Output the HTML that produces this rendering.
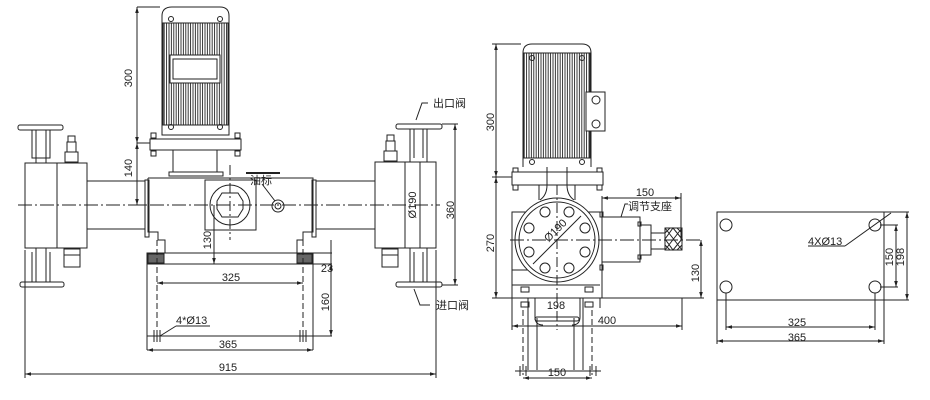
<!DOCTYPE html>
<html><head><meta charset="utf-8"><style>
html,body{margin:0;padding:0;background:#fff;}
svg{display:block;}
text{font-family:"Liberation Sans","Noto Sans CJK SC",sans-serif;fill:#222;}
</style></head><body>
<svg width="930" height="400" viewBox="0 0 930 400" xmlns="http://www.w3.org/2000/svg">
<defs>
<pattern id="fins" width="2.4" height="10" patternUnits="userSpaceOnUse"><line x1="1" y1="0" x2="1" y2="10" stroke="#222" stroke-width="0.9"/></pattern>
<marker id="a" viewBox="0 0 10 10" refX="10" refY="5" markerWidth="6" markerHeight="6" orient="auto-start-reverse"><path d="M0,2 L10,5 L0,8z" fill="#222"/></marker>
</defs>
<g fill="none" stroke="#222" stroke-width="1">
<!-- LEFT VIEW motor -->
<path d="M162,135 V16 Q162,7 172,7 H220 Q229,7 229,16 V135"/>
<rect x="163" y="23" width="65" height="102" fill="url(#fins)"/>
<rect x="170" y="55" width="50" height="28" fill="#fff"/>
<rect x="173" y="59" width="44" height="20" fill="#fff"/>
<circle cx="171" cy="19" r="2.5"/><circle cx="220" cy="19" r="2.5"/><circle cx="171" cy="127" r="2.5"/><circle cx="220" cy="127" r="2.5"/>
<rect x="162" y="125" width="67" height="10"/>
<rect x="150" y="139" width="91" height="11"/>
<rect x="151" y="133" width="5" height="5"/><rect x="235" y="133" width="5" height="5"/>
<rect x="151" y="151" width="5" height="5"/><rect x="235" y="151" width="5" height="5"/>
<rect x="173" y="150" width="44" height="22"/>
<rect x="169" y="172" width="54" height="4"/>
<!-- body -->
<path d="M148,178 H313 V232 H303 V240 H297 V253 M148,178 V232 H158 V240 H165 V253"/>
<rect x="145" y="180" width="4" height="57"/><rect x="312" y="180" width="4" height="57"/>
<rect x="205" y="180" width="51" height="50"/>
<circle cx="230" cy="205" r="20"/>
<path d="M222,193 L238,193 L243,201 L243,209 L238,217 L222,217 L217,209 L217,201z"/>
<circle cx="278" cy="206" r="6"/><circle cx="278" cy="206" r="3"/>
<line x1="246" y1="173" x2="280" y2="173" stroke-width="2"/>
<line x1="262" y1="184" x2="275" y2="201"/>
<!-- pipes -->
<line x1="87" y1="181" x2="145" y2="181"/><line x1="87" y1="229" x2="145" y2="229"/>
<line x1="316" y1="181" x2="375" y2="181"/><line x1="316" y1="229" x2="375" y2="229"/>
<!-- heads -->
<rect x="25" y="163" width="62" height="85"/><line x1="57" y1="163" x2="57" y2="248"/>
<rect x="375" y="162" width="61" height="86"/><line x1="405" y1="162" x2="405" y2="248"/><line x1="420" y1="162" x2="420" y2="248"/>
<!-- flanges -->
<rect x="18" y="125" width="45" height="5" rx="2"/><path d="M32,130 V158 H50 V130 M36,130 V158 M46,130 V158"/><line x1="36" y1="158" x2="36" y2="163"/><line x1="46" y1="158" x2="46" y2="163"/>
<rect x="20" y="282" width="44" height="5" rx="2"/><path d="M32,282 V252 M50,282 V252 M36,248 V282 M46,248 V282"/>
<rect x="396" y="124" width="46" height="5" rx="2"/><path d="M410,129 V162 M427,129 V162 M414,129 V158 M423,129 V158"/>
<rect x="396" y="282" width="46" height="5" rx="2"/><path d="M410,248 V282 M427,248 V282 M414,252 V282 M423,252 V282"/>
<!-- small valves -->
<rect x="68" y="136" width="7" height="6"/><rect x="67" y="142" width="9" height="10"/><rect x="65" y="152" width="13" height="10"/>
<rect x="387" y="135" width="7" height="6"/><rect x="386" y="141" width="9" height="10"/><rect x="384" y="151" width="13" height="10"/>
<rect x="64" y="249" width="16" height="6"/><rect x="64" y="255" width="16" height="12"/>
<rect x="382" y="249" width="16" height="6"/><rect x="382" y="255" width="16" height="12"/>
<!-- base -->
<rect x="147" y="253" width="166" height="11"/>
<rect x="148" y="254" width="16" height="9" fill="#666"/><rect x="297" y="254" width="15" height="9" fill="#666"/>
<line x1="147" y1="264" x2="147" y2="350"/><line x1="313" y1="264" x2="313" y2="350"/>
<line x1="157" y1="240" x2="157" y2="342" stroke-dasharray="6,3"/><line x1="303" y1="240" x2="303" y2="342" stroke-dasharray="6,3"/>
<line x1="147" y1="336" x2="313" y2="336"/>
<path d="M154,330 V342 M157,330 V342 M160,330 V342 M300,330 V342 M303,330 V342 M306,330 V342"/>
<line x1="160" y1="336" x2="176" y2="326"/><line x1="176" y1="326" x2="210" y2="326"/>
<!-- centerlines -->
<line x1="18" y1="205" x2="440" y2="205" stroke-dasharray="14,3,2,3"/>
<line x1="230" y1="165" x2="230" y2="240" stroke-dasharray="10,3,2,3"/>
<!-- dims left -->
<line x1="137" y1="7" x2="160" y2="7"/><line x1="137" y1="143" x2="150" y2="143"/><line x1="137" y1="205" x2="145" y2="205"/>
<line x1="137" y1="7" x2="137" y2="143" marker-start="url(#a)" marker-end="url(#a)"/>
<line x1="137" y1="143" x2="137" y2="205" marker-start="url(#a)" marker-end="url(#a)"/>
<line x1="214" y1="205" x2="214" y2="264" marker-end="url(#a)"/>
<line x1="313" y1="253" x2="332" y2="253"/><line x1="313" y1="264" x2="332" y2="264"/><line x1="313" y1="336" x2="332" y2="336"/>
<line x1="331" y1="240" x2="331" y2="264"/><line x1="331" y1="264" x2="331" y2="336" marker-start="url(#a)" marker-end="url(#a)"/>
<line x1="157" y1="283" x2="303" y2="283" marker-start="url(#a)" marker-end="url(#a)"/>
<line x1="147" y1="350" x2="313" y2="350" marker-start="url(#a)" marker-end="url(#a)"/>
<line x1="25" y1="250" x2="25" y2="378"/><line x1="436" y1="250" x2="436" y2="378"/>
<line x1="25" y1="374" x2="436" y2="374" marker-start="url(#a)" marker-end="url(#a)"/>
<line x1="442" y1="124" x2="458" y2="124"/><line x1="442" y1="285" x2="458" y2="285"/>
<line x1="455" y1="124" x2="455" y2="285" marker-start="url(#a)" marker-end="url(#a)"/>
<path d="M416,120 L422,103 H428"/><path d="M414,289 L420,305 H430"/>

<!-- RIGHT VIEW -->
<path d="M523,167 V53 Q523,44 532,44 H582 Q591,44 591,53 V167"/>
<rect x="524" y="53" width="66" height="105" fill="url(#fins)"/>
<circle cx="532" cy="58" r="2.5"/><circle cx="582" cy="58" r="2.5"/><circle cx="532" cy="162" r="2.5"/><circle cx="582" cy="162" r="2.5"/>
<rect x="586" y="92" width="19" height="39" fill="#fff"/>
<circle cx="596" cy="100" r="4"/><circle cx="596" cy="124" r="4"/>
<rect x="512" y="172" width="91" height="13"/>
<rect x="513" y="168" width="5" height="4"/><rect x="597" y="168" width="5" height="4"/>
<rect x="513" y="185" width="5" height="5"/><rect x="597" y="185" width="5" height="5"/>
<path d="M547,167 V185 Q547,195 540,200 M567,167 V185 Q567,195 574,200"/>
<path d="M539,185 V200 M575,185 V200"/>
<rect x="512" y="212" width="90" height="86"/>
<line x1="512" y1="270" x2="550" y2="270"/><line x1="512" y1="285" x2="600" y2="285"/>
<circle cx="557" cy="240" r="42" fill="#fff"/><circle cx="557" cy="240" r="38"/>
<g>
<circle cx="545" cy="212" r="5"/><circle cx="569" cy="212" r="5"/><circle cx="585" cy="228" r="5"/><circle cx="585" cy="252" r="5"/>
<circle cx="569" cy="268" r="5"/><circle cx="545" cy="268" r="5"/><circle cx="529" cy="252" r="5"/><circle cx="529" cy="228" r="5"/>
</g>
<line x1="533" y1="264" x2="581" y2="216"/>
<rect x="602" y="217" width="38" height="45"/>
<rect x="600" y="212" width="3" height="5"/><rect x="600" y="265" width="3" height="5"/>
<rect x="640" y="225" width="11" height="30"/><rect x="638" y="222" width="3" height="4"/><rect x="638" y="255" width="3" height="4"/>
<rect x="651" y="233" width="14" height="16"/>
<rect x="665" y="228" width="17" height="22"/>
<path d="M665,228 L682,250 M665,250 L682,228 M665,239 L673,228 L682,239 L673,250z M665,233 L670,228 M665,245 L670,250 M682,233 L677,228 M682,245 L677,250"/>
<line x1="510" y1="240" x2="702" y2="240" stroke-dasharray="14,3,2,3"/>
<line x1="557" y1="185" x2="557" y2="330" stroke-dasharray="10,3,2,3"/>
<!-- base/legs -->
<path d="M512,298 V325 M600,298 V308"/>
<rect x="521" y="287" width="8" height="5"/><rect x="585" y="287" width="8" height="5"/>
<rect x="521" y="302" width="8" height="5"/><rect x="585" y="302" width="8" height="5"/>
<path d="M535,298 V317 Q535,325 543,325 M580,298 V317 Q580,325 572,325"/>
<rect x="535" y="317" width="44" height="4" rx="2"/>
<path d="M528,298 V370 M537,318 V370 M574,318 V370 M583,298 V370"/>
<line x1="523" y1="310" x2="523" y2="375" stroke-dasharray="6,3"/><line x1="592" y1="310" x2="592" y2="375" stroke-dasharray="6,3"/>
<path d="M515,371 H601 M520,366 V376 M526,366 V376 M590,366 V376 M596,366 V376"/>
<!-- right dims -->
<line x1="492" y1="44" x2="521" y2="44"/><line x1="492" y1="177" x2="512" y2="177"/><line x1="492" y1="298" x2="512" y2="298"/>
<line x1="496" y1="44" x2="496" y2="177" marker-start="url(#a)" marker-end="url(#a)"/>
<line x1="496" y1="177" x2="496" y2="298" marker-start="url(#a)" marker-end="url(#a)"/>
<line x1="602" y1="196" x2="602" y2="217"/><line x1="681" y1="193" x2="681" y2="240"/>
<line x1="602" y1="198" x2="681" y2="198" marker-start="url(#a)" marker-end="url(#a)"/>
<path d="M621,217 L625,204 H628"/>
<line x1="600" y1="298" x2="704" y2="298"/>
<line x1="701" y1="240" x2="701" y2="298" marker-start="url(#a)" marker-end="url(#a)"/>
<line x1="682" y1="298" x2="682" y2="330"/><line x1="512" y1="325" x2="512" y2="330"/>
<line x1="512" y1="326" x2="682" y2="326" marker-start="url(#a)" marker-end="url(#a)"/>
<line x1="523" y1="378" x2="592" y2="378" marker-start="url(#a)" marker-end="url(#a)"/>
<!-- PLAN VIEW -->
<rect x="717" y="212" width="167" height="88"/>
<circle cx="726" cy="225" r="6"/><circle cx="875" cy="225" r="6"/><circle cx="726" cy="287" r="6"/><circle cx="875" cy="287" r="6"/>
<line x1="808" y1="246" x2="845" y2="246"/><line x1="845" y1="246" x2="891" y2="213"/>
<line x1="880" y1="225" x2="898" y2="225"/><line x1="880" y1="287" x2="898" y2="287"/>
<line x1="884" y1="212" x2="909" y2="212"/><line x1="884" y1="300" x2="909" y2="300"/>
<line x1="896" y1="225" x2="896" y2="287" marker-start="url(#a)" marker-end="url(#a)"/>
<line x1="907" y1="212" x2="907" y2="300" marker-start="url(#a)" marker-end="url(#a)"/>
<line x1="726" y1="293" x2="726" y2="330"/><line x1="875" y1="293" x2="875" y2="330"/>
<line x1="717" y1="300" x2="717" y2="344"/><line x1="884" y1="300" x2="884" y2="344"/>
<line x1="726" y1="327" x2="875" y2="327" marker-start="url(#a)" marker-end="url(#a)"/>
<line x1="717" y1="341" x2="884" y2="341" marker-start="url(#a)" marker-end="url(#a)"/>
</g>
<g font-size="11">
<text x="132" y="78" transform="rotate(-90 132 78)" text-anchor="middle">300</text>
<text x="132" y="168" transform="rotate(-90 132 168)" text-anchor="middle">140</text>
<text x="211" y="240" transform="rotate(-90 211 240)" text-anchor="middle">130</text>
<text x="250" y="184" font-size="11">油标</text>
<text x="416" y="205" transform="rotate(-90 416 205)" text-anchor="middle">Ø190</text>
<text x="454" y="210" transform="rotate(-90 454 210)" text-anchor="middle">360</text>
<text x="433" y="107">出口阀</text>
<text x="436" y="309">进口阀</text>
<text x="231" y="281" text-anchor="middle">325</text>
<text x="327" y="272" text-anchor="middle">23</text>
<text x="329" y="302" transform="rotate(-90 329 302)" text-anchor="middle">160</text>
<text x="176" y="324">4*Ø13</text>
<text x="228" y="348" text-anchor="middle">365</text>
<text x="228" y="371" text-anchor="middle">915</text>
<text x="494" y="122" transform="rotate(-90 494 122)" text-anchor="middle">300</text>
<text x="494" y="243" transform="rotate(-90 494 243)" text-anchor="middle">270</text>
<text x="645" y="196" text-anchor="middle">150</text>
<text x="628" y="210">调节支座</text>
<text x="558" y="233" transform="rotate(-45 558 233)" text-anchor="middle">Ø190</text>
<text x="699" y="273" transform="rotate(-90 699 273)" text-anchor="middle">130</text>
<text x="556" y="309" text-anchor="middle">198</text>
<text x="607" y="324" text-anchor="middle">400</text>
<text x="557" y="376" text-anchor="middle">150</text>
<text x="808" y="245">4XØ13</text>
<text x="893" y="257" transform="rotate(-90 893 257)" text-anchor="middle">150</text>
<text x="904" y="257" transform="rotate(-90 904 257)" text-anchor="middle">198</text>
<text x="797" y="326" text-anchor="middle">325</text>
<text x="797" y="341" text-anchor="middle">365</text>
</g>
</svg>
</body></html>
